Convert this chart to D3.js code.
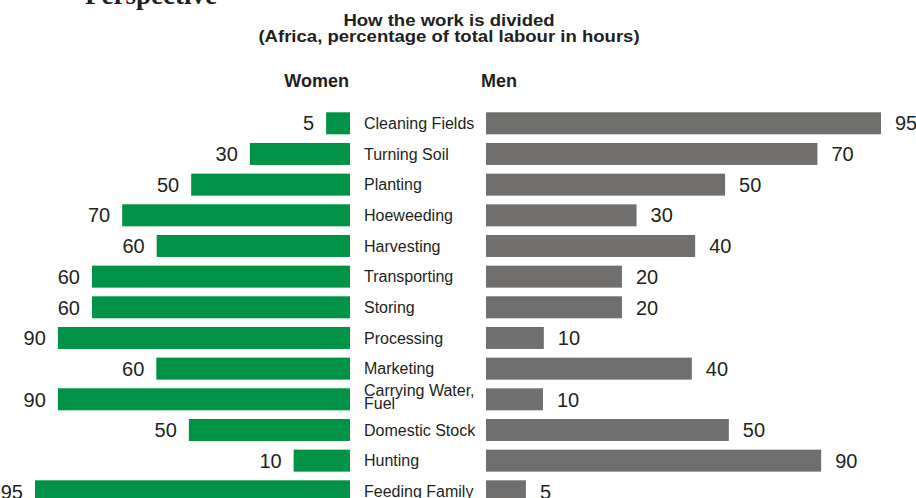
<!DOCTYPE html>
<html>
<head>
<meta charset="utf-8">
<script src="https://cdn.jsdelivr.net/npm/d3@7"></script>
<style>
  html, body { margin: 0; padding: 0; background: #ffffff; }
  svg { display: block; }
</style>
</head>
<body>
<svg id="chart" width="916" height="498"></svg>
<script>
// rows, top to bottom
var categories = ["Cleaning Fields", "Turning Soil", "Planting", "Hoeweeding", "Harvesting",
  "Transporting", "Storing", "Processing", "Marketing", "Carrying Water,\nFuel",
  "Domestic Stock", "Hunting", "Feeding Family"];

// printed values
var womenLabels = [5, 30, 50, 70, 60, 60, 60, 90, 60, 90, 50, 10, 95];
var menLabels = [95, 70, 50, 30, 40, 20, 20, 10, 40, 10, 50, 90, 5];

// bar lengths as they are drawn in the source (same % units)
var womenBars = [7.2, 30.2, 47.9, 68.7, 58.3, 77.8, 77.8, 88.1, 58.4, 88.1, 48.6, 17.0, 95];
var menBars = [95, 79.7, 57.5, 36.2, 50.3, 32.7, 32.7, 13.9, 49.5, 13.7, 58.4, 80.6, 9.6];

var titleLines = ["How the work is divided", "(Africa, percentage of total labour in hours)"];

var svg = d3.select("#chart");
var sans = '"Liberation Sans", Arial, Helvetica, sans-serif';
var textColor = "#231f20";
var green = "#009245";
var grey = "#706f6e";

var y = d3.scaleBand()
  .domain(categories)
  .range([112.3, 502.3])
  .paddingInner(0.283)
  .paddingOuter(0);

var xW = d3.scaleLinear().domain([0, 100]).range([350, 18.4]);
var xM = d3.scaleLinear().domain([0, 100]).range([486, 901.8]);

// cut-off heading at the very top
svg.append("text")
  .attr("x", 85)
  .attr("y", 4)
  .style("font-family", '"Liberation Serif", "Times New Roman", serif')
  .style("font-weight", "bold")
  .style("font-size", "27px")
  .style("fill", textColor)
  .text("Perspective");

// title, a bit wider than the plain font
var titleG = svg.append("g").attr("class", "title");
titleLines.forEach(function (t, i) {
  titleG.append("text")
    .attr("transform", "translate(449," + (26 + i * 16) + ") scale(1.16,1)")
    .style("text-anchor", "middle")
    .style("font-family", sans)
    .style("font-weight", "bold")
    .style("font-size", "16px")
    .style("fill", textColor)
    .text(t);
});

svg.append("text")
  .attr("x", 349)
  .attr("y", 87)
  .style("text-anchor", "end")
  .style("font-family", sans)
  .style("font-weight", "bold")
  .style("font-size", "18px")
  .style("fill", textColor)
  .text("Women");

svg.append("text")
  .attr("x", 481)
  .attr("y", 87)
  .style("font-family", sans)
  .style("font-weight", "bold")
  .style("font-size", "18px")
  .style("fill", textColor)
  .text("Men");

var rows = categories.map(function (c, i) {
  return { name: c, wBar: womenBars[i], mBar: menBars[i], wLab: womenLabels[i], mLab: menLabels[i] };
});

// women bars
svg.append("g").attr("class", "women")
  .selectAll("rect")
  .data(rows)
  .join("rect")
  .attr("x", function (d) { return xW(d.wBar); })
  .attr("y", function (d) { return y(d.name); })
  .attr("width", function (d) { return xW(0) - xW(d.wBar); })
  .attr("height", y.bandwidth())
  .style("fill", green);

// men bars
svg.append("g").attr("class", "men")
  .selectAll("rect")
  .data(rows)
  .join("rect")
  .attr("x", xM(0))
  .attr("y", function (d) { return y(d.name); })
  .attr("width", function (d) { return xM(d.mBar) - xM(0); })
  .attr("height", y.bandwidth())
  .style("fill", grey);

// value labels
svg.append("g").attr("class", "womenLabels")
  .selectAll("text")
  .data(rows)
  .join("text")
  .attr("x", function (d) { return xW(d.wBar) - 12; })
  .attr("y", function (d) { return y(d.name) + y.bandwidth() / 2; })
  .attr("dy", "0.36em")
  .style("text-anchor", "end")
  .style("font-family", sans)
  .style("font-size", "20px")
  .style("fill", textColor)
  .text(function (d) { return d.wLab; });

svg.append("g").attr("class", "menLabels")
  .selectAll("text")
  .data(rows)
  .join("text")
  .attr("x", function (d) { return xM(d.mBar) + 14; })
  .attr("y", function (d) { return y(d.name) + y.bandwidth() / 2; })
  .attr("dy", "0.36em")
  .style("font-family", sans)
  .style("font-size", "20px")
  .style("fill", textColor)
  .text(function (d) { return d.mLab; });

// category names in the middle
var catText = svg.append("g").attr("class", "categories")
  .selectAll("text")
  .data(rows)
  .join("text")
  .attr("x", 364)
  .attr("y", function (d) { return y(d.name) + y.bandwidth() / 2; })
  .style("font-family", sans)
  .style("font-size", "16px")
  .style("fill", textColor);

catText.each(function (d) {
  var lines = d.name.split("\n");
  var t = d3.select(this);
  lines.forEach(function (l, k) {
    t.append("tspan")
      .attr("x", 364)
      .attr("dy", k == 0 ? (lines.length > 1 ? "-0.18em" : "0.35em") : "0.79em")
      .text(l);
  });
});
</script>
</body>
</html>
